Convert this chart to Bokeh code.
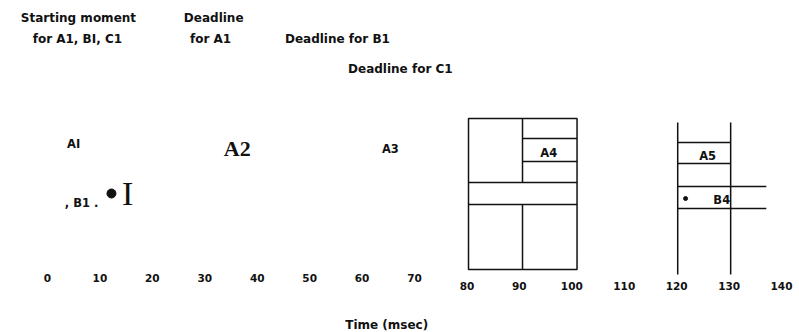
from bokeh.plotting import figure
from bokeh.models import Range1d
from bokeh.core.properties import value
from bokeh.embed import file_html
from bokeh.resources import INLINE

# ---- data (time in msec, vertical position as row level) ----
tick_values_row1 = [0, 10, 20, 30, 40, 50, 60, 70]
tick_values_row2 = [80, 90, 100, 110, 120, 130, 140]
tick_y_row1 = 277
tick_y_row2 = 285

note_text = ["Starting moment", "for A1, BI, C1", "Deadline", "for A1",
             "Deadline for B1", "Deadline for C1"]
note_t = [5.9, 5.7, 31.7, 31.1, 55.3, 67.3]
note_y = [17, 38, 17, 38, 38, 68]

task_text = ["AI", "A3", ", B1 .", "A4", "A5", "B4"]
task_t = [5.0, 65.4, 6.5, 95.6, 125.9, 128.6]
task_y = [143, 148, 202, 152, 155, 199]

serif_text = ["A2", "I"]
serif_t = [36.2, 15.3]
serif_y = [148, 193]

dot_t = [12.2, 121.7]
dot_y = [193, 198]

# frame of task A4 block
box_left, box_mid, box_right = 80.3, 90.6, 101.0
box_top, box_bottom = 118, 269

# horizontal separators: start, end, level
h_t0 = [90.6, 90.6, 80.3, 80.3, 120.2, 120.2, 120.2, 120.2]
h_t1 = [101.0, 101.0, 101.0, 101.0, 130.3, 130.3, 137.1, 137.1]
h_y = [138, 161, 182, 204, 142, 163, 186, 208]

# vertical separators: time, top, bottom
v_t = [90.6, 90.6, 120.2, 130.3]
v_y0 = [118, 204, 122, 122]
v_y1 = [182, 269, 274, 274]

axis_title = "Time (msec)"
axis_title_t = 64.7
axis_title_y = 324

# ---- figure ----
p = figure(width=799, height=332, output_backend="svg", toolbar_location=None,
           x_range=Range1d(-8.964, 143.43), y_range=Range1d(332, 0),
           min_border=0)
p.axis.visible = False
p.grid.visible = False
p.outline_line_color = None
p.background_fill_color = "white"
p.border_fill_color = "white"

ink = "#111111"

p.quad(left=[box_left], right=[box_right], top=[box_top], bottom=[box_bottom],
       fill_color=None, line_color=ink, line_width=1.5)
p.segment(x0=h_t0, x1=h_t1, y0=h_y, y1=h_y, line_color=ink, line_width=1.5)
p.segment(x0=v_t, x1=v_t, y0=v_y0, y1=v_y1, line_color=ink, line_width=1.5)

p.scatter(x=dot_t[:1], y=dot_y[:1], size=9, color=ink)
p.scatter(x=dot_t[1:], y=dot_y[1:], size=4, color=ink)

sans = value("DejaVu Sans")
serif = value("Liberation Serif")

p.text(x=note_t, y=note_y, text=note_text, text_font=sans, text_font_size="12px",
       text_font_style="bold", text_align="center", text_baseline="middle", text_color=ink)
p.text(x=task_t, y=task_y, text=task_text, text_font=sans, text_font_size="11.5px",
       text_font_style="bold", text_align="center", text_baseline="middle", text_color=ink)
p.text(x=serif_t[:1], y=serif_y[:1], text=serif_text[:1], text_font=serif, text_font_size="22px",
       text_font_style="bold", text_align="center", text_baseline="middle", text_color=ink)
p.text(x=serif_t[1:], y=serif_y[1:], text=serif_text[1:], text_font=serif, text_font_size="34px",
       text_font_style="normal", text_align="center", text_baseline="middle", text_color=ink)

p.text(x=tick_values_row1, y=[tick_y_row1] * len(tick_values_row1),
       text=[str(v) for v in tick_values_row1], text_font=sans, text_font_size="10.5px",
       text_font_style="bold", text_align="center", text_baseline="middle", text_color=ink)
p.text(x=tick_values_row2, y=[tick_y_row2] * len(tick_values_row2),
       text=[str(v) for v in tick_values_row2], text_font=sans, text_font_size="10.5px",
       text_font_style="bold", text_align="center", text_baseline="middle", text_color=ink)

p.text(x=[axis_title_t], y=[axis_title_y], text=[axis_title], text_font=sans,
       text_font_size="12px", text_font_style="bold", text_align="center",
       text_baseline="middle", text_color=ink)

open("out.html", "w").write(file_html(p, INLINE))
